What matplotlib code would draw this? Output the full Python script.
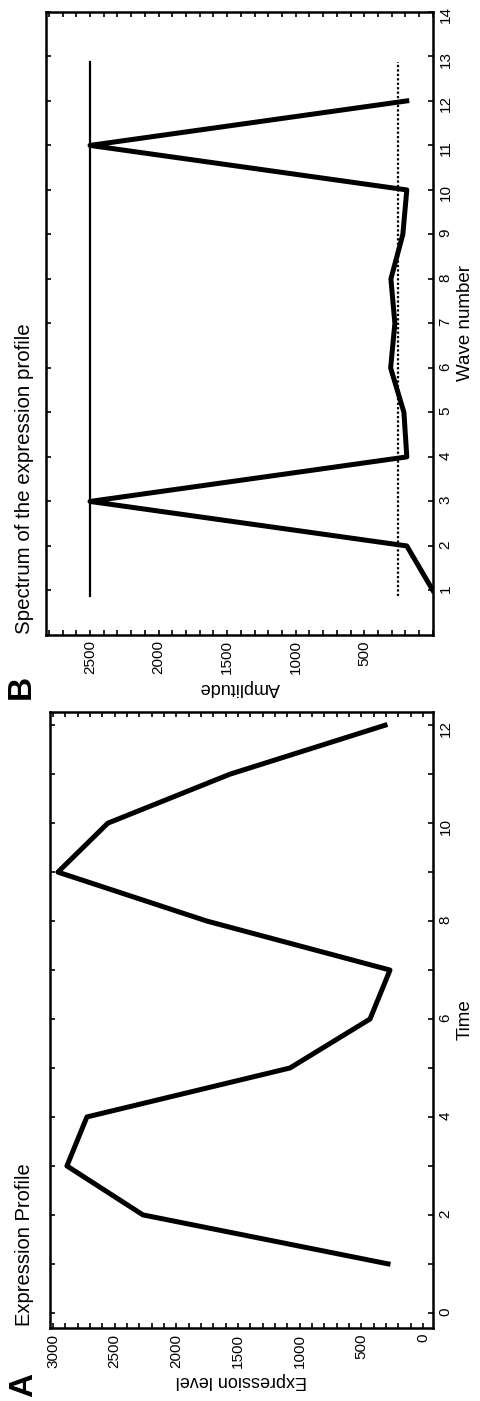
import matplotlib
matplotlib.use('Agg')
import matplotlib.pyplot as plt
from matplotlib.ticker import MultipleLocator

plt.rcParams['font.family'] = ['Liberation Sans', 'DejaVu Sans']

# Panel A: expression profile over time
time_points = [1, 2, 3, 4, 5, 6, 7, 8, 9, 10, 11, 12]
expression = [284, 2271, 2887, 2725, 1079, 430, 268, 1752, 2960, 2555, 1565, 308]

# Panel B: spectrum of the expression profile
wave_numbers = [1, 2, 3, 4, 5, 6, 7, 8, 9, 10, 11, 12]
amplitude = [0, 190, 2500, 190, 211, 308, 277, 306, 219, 190, 2500, 190]
peak_level = 2500
noise_level = 255
level_span = [0.88, 12.88]

expr_ticks = [0, 500, 1000, 1500, 2000, 2500, 3000]
time_ticks = [0, 2, 4, 6, 8, 10, 12]
amp_ticks = [500, 1000, 1500, 2000, 2500]
wave_ticks = list(range(1, 15))

# figure is laid out rotated 90 degrees (text reads upward)
fig = plt.figure(figsize=(4.8, 14.01), dpi=100)
axA = fig.add_axes([0.1042, 0.0521, 0.798, 0.4397])
axB = fig.add_axes([0.0958, 0.5468, 0.806, 0.4447])

axA.plot(expression, time_points, color='black', lw=3.6)
axA.set_xlim(3024, -81)
axA.set_ylim(-0.31, 12.27)
axA.set_xticks(expr_ticks)
axA.xaxis.set_minor_locator(MultipleLocator(100))
axA.set_yticks(time_ticks)
axA.yaxis.set_minor_locator(MultipleLocator(1))

axB.plot(amplitude, wave_numbers, color='black', lw=3.6)
axB.plot([peak_level, peak_level], level_span, color='black', lw=1.6)
axB.plot([noise_level, noise_level], level_span, color='black', lw=1.6,
         linestyle=(0, (1, 1)))
axB.set_xlim(2821, 0)
axB.set_ylim(0, 14)
axB.set_xticks(amp_ticks)
axB.xaxis.set_minor_locator(MultipleLocator(100))
axB.set_yticks(wave_ticks)

for ax in (axA, axB):
    for s in ax.spines.values():
        s.set_linewidth(1.8)
    ax.yaxis.tick_right()
    ax.yaxis.set_label_position('right')
    ax.tick_params(which='both', direction='in', top=True, bottom=True,
                   left=True, right=True, length=3.5, width=1.2,
                   labelleft=False, labelright=True, labelsize=11, pad=4)
    ax.tick_params(axis='x', labelrotation=90)
    ax.tick_params(axis='y', labelrotation=90)

axA.set_xlabel('Expression level', rotation=180, fontsize=13, labelpad=3)
axA.set_ylabel('Time', rotation=90, fontsize=13.5, labelpad=3)
axB.set_xlabel('Amplitude', rotation=180, fontsize=13, labelpad=3)
axB.set_ylabel('Wave number', rotation=90, fontsize=13.5, labelpad=3)

fig.text(25 / 480, 1 - 1326 / 1401, 'Expression Profile', rotation=90,
         ha='center', va='bottom', fontsize=14.5)
fig.text(25 / 480, 1 - 634 / 1401, 'Spectrum of the expression profile',
         rotation=90, ha='center', va='bottom', fontsize=14.8)
fig.text(24 / 480, 1 - 1385 / 1401, 'A', rotation=90, ha='center',
         va='center', fontsize=24, fontweight='bold')
fig.text(21 / 480, 1 - 687 / 1401, 'B', rotation=90, ha='center',
         va='center', fontsize=24, fontweight='bold')

fig.savefig('out.png', dpi=100)
